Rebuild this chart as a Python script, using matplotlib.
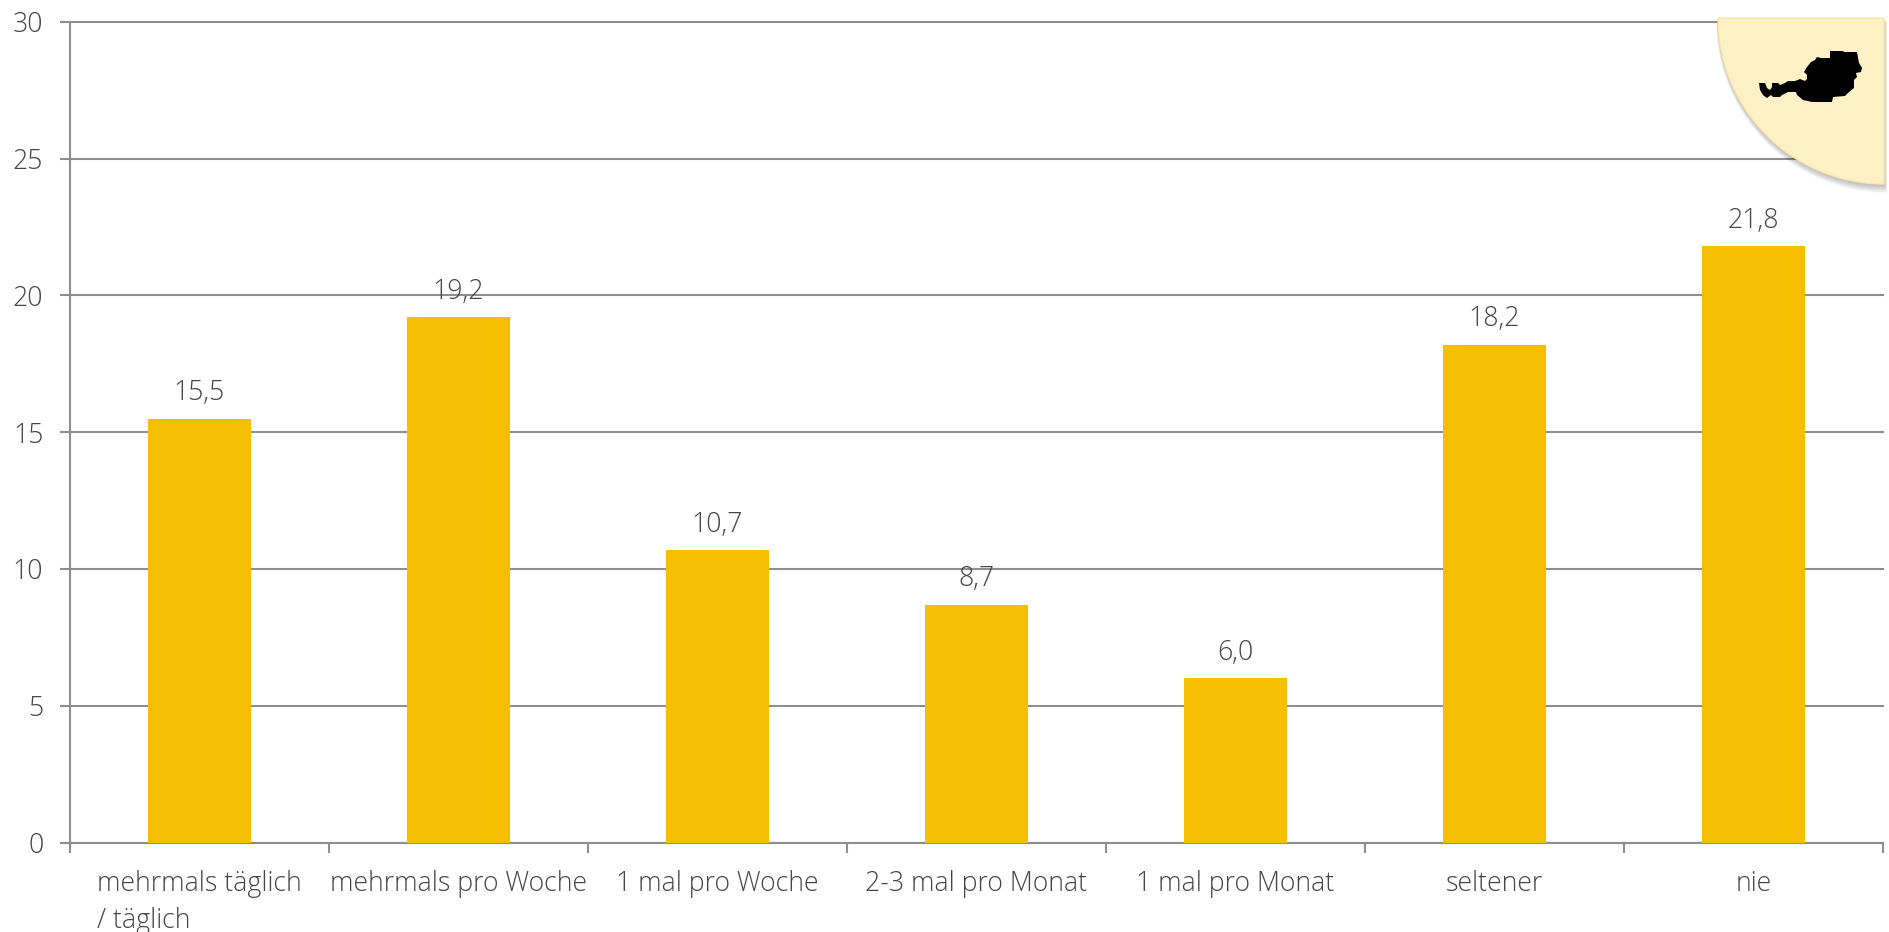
import matplotlib
matplotlib.use('Agg')
import matplotlib.pyplot as plt
from matplotlib.patches import Polygon, Wedge

categories = ['mehrmals täglich\n/ täglich', 'mehrmals pro Woche', '1 mal pro Woche',
              '2-3 mal pro Monat', '1 mal pro Monat', 'seltener', 'nie']
values = [15.5, 19.2, 10.7, 8.7, 6.0, 18.2, 21.8]
y_ticks = [0, 5, 10, 15, 20, 25, 30]

# outline of the Austria icon, in pixels
austria_x = [1759, 1765, 1767, 1770, 1772, 1772, 1778, 1780, 1785, 1788, 1795, 1800, 1805,
             1807, 1807, 1804, 1807, 1811, 1815, 1817, 1821, 1830, 1830, 1843, 1844, 1857,
             1859, 1862, 1861, 1856, 1857, 1854, 1854, 1849, 1845, 1833, 1832, 1812, 1803,
             1797, 1796, 1788, 1782, 1780, 1773, 1771, 1767, 1763, 1760]
austria_y = [83, 83, 88, 90, 87, 83, 83, 85, 83, 81, 81, 79, 81,
             79, 75, 72, 67, 62, 60, 57, 58, 58, 51, 51, 52, 52,
             63, 68, 72, 73, 77, 80, 88, 92, 96, 97, 102, 102, 100,
             95, 92, 92, 95, 97, 97, 95, 98, 95, 90]

GREY = '#8e8e8e'
TEXT = '#454545'
YELLOW = '#f5be00'
W, H = 1889, 932

plt.rcParams['font.family'] = ['Open Sans', 'DejaVu Sans']
plt.rcParams['font.weight'] = 'light'

fig = plt.figure(figsize=(W / 100, H / 100), dpi=100, facecolor='white')
ax = fig.add_axes([70 / W, 1 - 842.5 / H, (1883 - 70) / W, (842.5 - 22) / H])

positions = list(range(len(values)))
ax.bar(positions, values, width=0.4, color=YELLOW, zorder=3)
ax.set_xlim(-0.5, len(values) - 0.5)
ax.set_ylim(0, 30)

ax.set_yticks(y_ticks)
ax.set_yticklabels([str(t) for t in y_ticks], fontsize=19.2, color=TEXT)
ax.set_xticks([p - 0.5 for p in positions] + [len(values) - 0.5])
ax.set_xticklabels([])
ax.tick_params(axis='y', length=7.2, width=1.5, color=GREY, pad=12)
ax.tick_params(axis='x', length=7.2, width=1.5, color=GREY)
ax.grid(axis='y', color=GREY, linewidth=1.5, zorder=1, clip_on=False)
ax.set_axisbelow(True)
for side in ['top', 'right']:
    ax.spines[side].set_visible(False)
for side in ['left', 'bottom']:
    ax.spines[side].set_color(GREY)
    ax.spines[side].set_linewidth(1.5)

for p, v in zip(positions, values):
    ax.annotate(str(v).replace('.', ','), (p, v), xytext=(0, 18.2), textcoords='offset points',
                ha='center', va='center', fontsize=19.2, color=TEXT, zorder=4)

for p, name in zip(positions, categories):
    ax.annotate(name, (p, 0), xytext=(0, -20), textcoords='offset points', ha='center', va='top',
                multialignment='left', fontsize=19.2, color=TEXT, linespacing=1.4,
                annotation_clip=False)

# corner card with the map, drawn in pixel coordinates (y axis runs downwards)
overlay = fig.add_axes([0, 0, 1, 1], facecolor='none')
overlay.set_xlim(0, W)
overlay.set_ylim(H, 0)
overlay.axis('off')
overlay.set_zorder(5)

for i in range(1, 9):
    overlay.add_patch(Wedge((1884 + i * 0.4, 18 + i * 0.5), 166 + i * 0.6, 90, 180,
                            facecolor='black', edgecolor='none', alpha=0.035))
overlay.add_patch(Wedge((1884, 18), 166, 90, 180, facecolor='#fff1c6', edgecolor='#fde7a4', linewidth=1))
overlay.add_patch(Polygon(list(zip(austria_x, austria_y)), closed=True, facecolor='black', edgecolor='none'))

fig.savefig('out.png', dpi=100)
